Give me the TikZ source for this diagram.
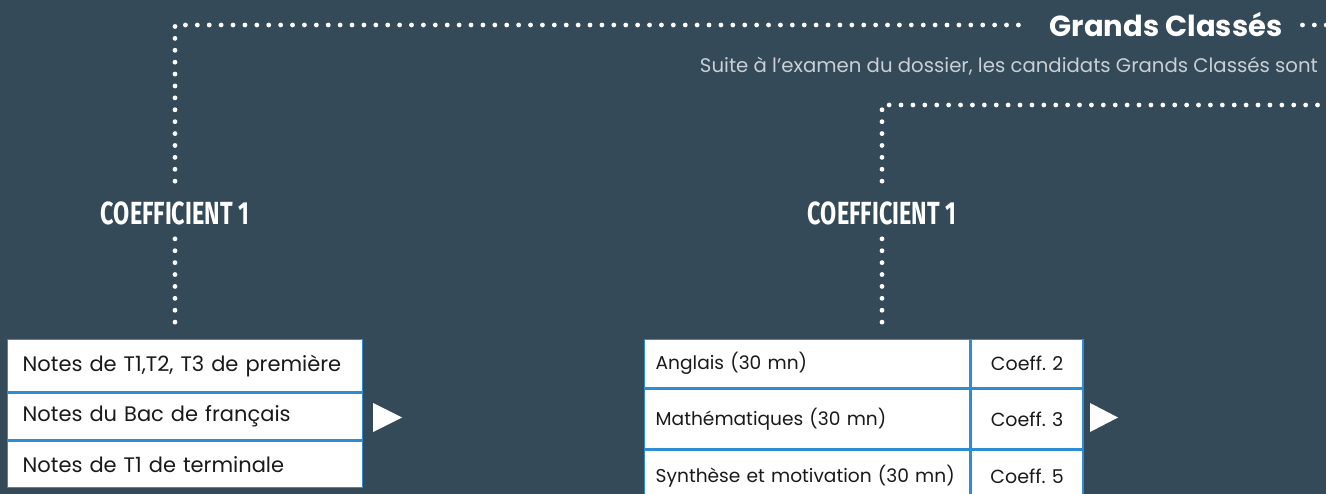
\documentclass[tikz,border=0pt]{standalone}
\usepackage{fontspec}
\usepackage{graphicx}
\setmainfont{Poppins}
\newfontfamily\condfont{Fira Sans}
\usetikzlibrary{calc}
\definecolor{bg}{HTML}{344A59}
\definecolor{tblue}{HTML}{2D8DD3}
\definecolor{subgray}{HTML}{C9D0D5}
\definecolor{ink}{HTML}{1A1A1A}
\begin{document}
\begin{tikzpicture}[x=1pt,y=-1pt,
  dots/.style={white, line width=4.8pt, line cap=round, dash pattern=on 0pt off 11.9pt},
  coef/.style={text=white, inner sep=0pt, font=\condfont\bfseries\fontsize{32}{32}\selectfont},
  cell/.style={draw=tblue, line width=1.4pt, fill=white, text=ink, anchor=north west,
    inner ysep=0pt},
  lcell/.style={cell, inner xsep=15pt, text width=325pt, align=left, font=\fontsize{21}{23}\selectfont},
  acell/.style={cell, inner xsep=11pt, text width=303pt, align=left, font=\fontsize{18.6}{21}\selectfont},
  bcell/.style={cell, inner xsep=11pt, text width=90pt, align=center, font=\fontsize{19}{21}\selectfont},
  tri/.style={fill=white}]
\fill[bg] (0,0) rectangle (1326,494);
\clip (0,0) rectangle (1326,494);
\useasboundingbox (0,0) rectangle (1326,494);

% header
\node[text=white, font=\bfseries\fontsize{29}{31}\selectfont, inner xsep=14pt, inner ysep=0pt] (gc) at (1166,25) {Grands Classés};
\node[text=subgray, font=\fontsize{19.7}{22}\selectfont, anchor=base east, inner sep=0pt] (sub) at (1318,73) {Suite à l’examen du dossier, les candidats Grands Classés sont};
\coordinate (edge1) at (1334,25);
\coordinate (edge2) at (1334,105);

% coefficient labels
\node[coef] (c1) at (175,213) {\scalebox{0.73}[1]{COEFFICIENT 1}};
\node[coef] (c2) at (882,213) {\scalebox{0.73}[1]{COEFFICIENT 1}};

% left table
\node[lcell, minimum height=52pt] (l1) at (7,339) {Notes de T1,T2, T3 de première};
\node[lcell, minimum height=47pt] (l2) at (l1.south west) {Notes du Bac de français};
\node[lcell, minimum height=46pt] (l3) at (l2.south west) {Notes de T1 de terminale};

% right table
\node[acell, minimum height=48pt] (a1) at (644,339) {Anglais (30 mn)};
\node[bcell, minimum height=48pt] (b1) at (a1.north east) {Coeff.\ 2};
\node[acell, minimum height=60pt] (a2) at (a1.south west) {Mathématiques (30 mn)};
\node[bcell, minimum height=60pt] (b2) at (a2.north east) {Coeff.\ 3};
\node[acell, minimum height=52pt] (a3) at (a2.south west) {\mbox{Synthèse et motivation (30 mn)}};
\node[bcell, minimum height=52pt] (b3) at (a3.north east) {Coeff.\ 5};

% connectors
\draw[dots, shorten <=20pt, shorten >=8pt] (c1.north) -- (c1.north |- gc.west) -- (gc.west);
\draw[dots, shorten <=6pt] (gc.east) -- (edge1);
\draw[dots, shorten <=20pt] (c2.north) -- (c2.north |- edge2) -- (edge2);
\draw[dots, shorten <=14pt, shorten >=16pt] (c1.south) -- (c1.south |- l1.north);
\draw[dots, shorten <=14pt, shorten >=16pt] (c2.south) -- (c2.south |- a1.north);

% arrows
\fill[tri] (373,403) -- (402,417.5) -- (373,432) -- cycle;
\fill[tri] (1090,403) -- (1118,417.5) -- (1090,432) -- cycle;
\end{tikzpicture}
\end{document}
